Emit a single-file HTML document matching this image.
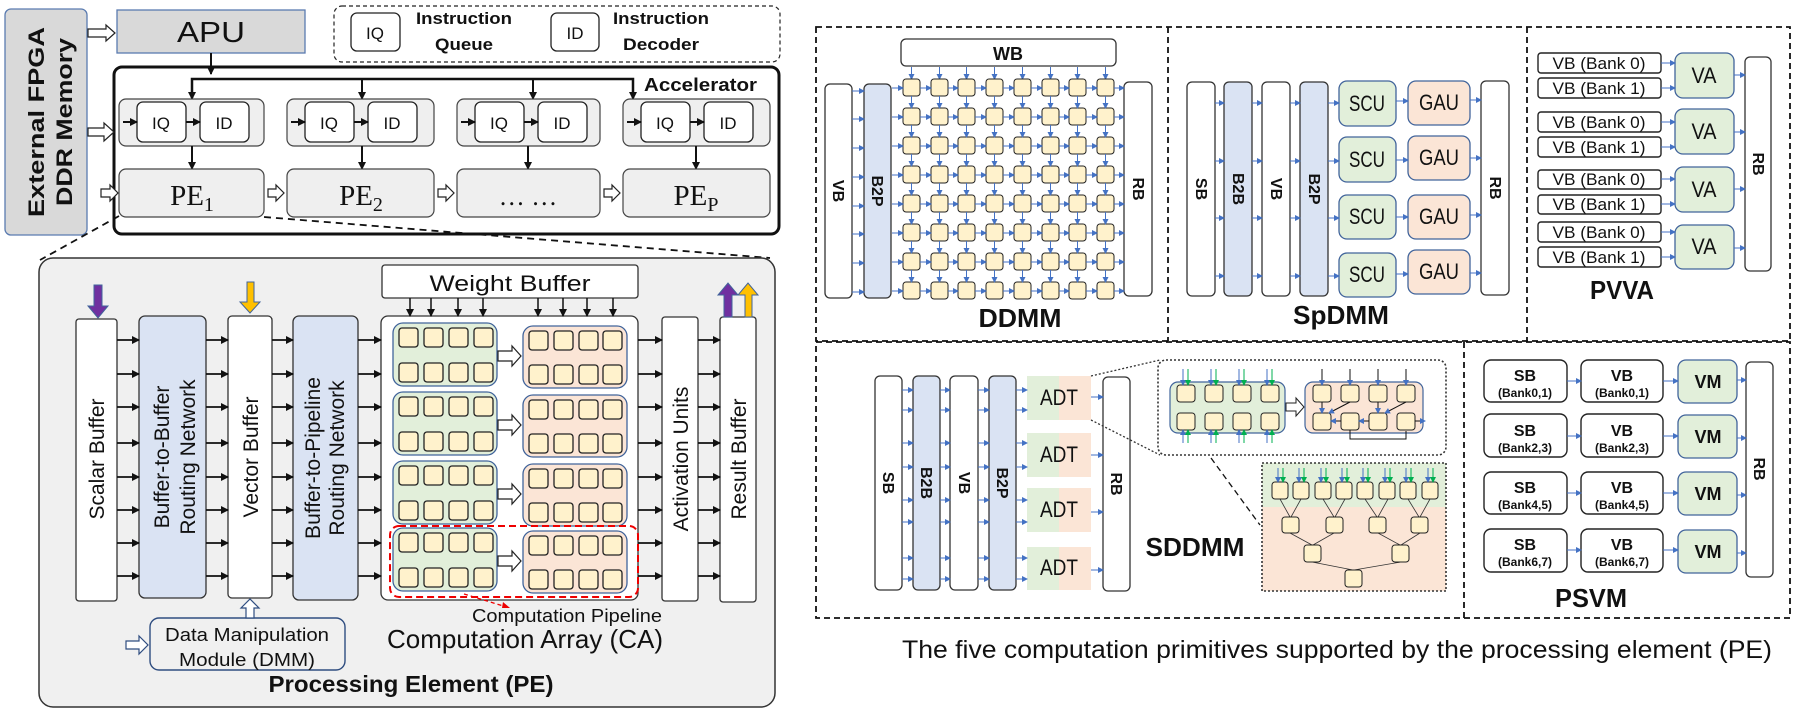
<!DOCTYPE html>
<html><head><meta charset="utf-8"><style>
html,body{margin:0;padding:0;background:#fff}
svg{display:block}
text{font-family:"Liberation Sans Narrow","Liberation Sans",sans-serif;fill:#111}
.b{font-weight:bold}
.w{font-family:"Liberation Sans",sans-serif}
.sr{font-family:"Liberation Serif",serif}
</style></head><body>
<svg width="1798" height="716" viewBox="0 0 1798 716" xmlns="http://www.w3.org/2000/svg">
<defs>
<marker id="ab" markerWidth="8" markerHeight="8" refX="7" refY="4" orient="auto" markerUnits="userSpaceOnUse"><path d="M0,0 L8,4 L0,8 z" fill="#111"/></marker>
<marker id="bl" markerWidth="6" markerHeight="6" refX="5" refY="3" orient="auto" markerUnits="userSpaceOnUse"><path d="M0,0 L6,3 L0,6 z" fill="#4472c4"/></marker>
<marker id="gr" markerWidth="6" markerHeight="6" refX="5" refY="3" orient="auto" markerUnits="userSpaceOnUse"><path d="M0,0 L6,3 L0,6 z" fill="#00b050"/></marker>
<g id="cag">
 <rect x="393" y="0" width="104" height="63" rx="10" fill="#e2efda" stroke="#41649b" stroke-width="1.3"/>
 <g fill="#fff2cc" stroke="#222" stroke-width="1.3">
 <rect x="399" y="5" width="19" height="19" rx="3"/><rect x="424" y="5" width="19" height="19" rx="3"/><rect x="449" y="5" width="19" height="19" rx="3"/><rect x="474" y="5" width="19" height="19" rx="3"/>
 <rect x="399" y="40" width="19" height="19" rx="3"/><rect x="424" y="40" width="19" height="19" rx="3"/><rect x="449" y="40" width="19" height="19" rx="3"/><rect x="474" y="40" width="19" height="19" rx="3"/>
 </g>
 <rect x="523" y="3" width="104" height="62" rx="10" fill="#fbe5d6" stroke="#41649b" stroke-width="1.3"/>
 <g fill="#fff2cc" stroke="#222" stroke-width="1.3">
 <rect x="529" y="8" width="19" height="19" rx="3"/><rect x="554" y="8" width="19" height="19" rx="3"/><rect x="579" y="8" width="19" height="19" rx="3"/><rect x="603" y="8" width="19" height="19" rx="3"/>
 <rect x="529" y="42" width="19" height="19" rx="3"/><rect x="554" y="42" width="19" height="19" rx="3"/><rect x="579" y="42" width="19" height="19" rx="3"/><rect x="603" y="42" width="19" height="19" rx="3"/>
 </g>
 <polygon points="498,28 512,28 512,23 521,33 512,43 512,38 498,38" fill="#fff" stroke="#222" stroke-width="1.2"/>
</g>
<g id="drow">
 <g fill="#fff2cc" stroke="#222" stroke-width="1">
 <rect x="903" y="79" width="17" height="17" rx="3"/><rect x="931" y="79" width="17" height="17" rx="3"/><rect x="958" y="79" width="17" height="17" rx="3"/><rect x="986" y="79" width="17" height="17" rx="3"/>
 <rect x="1014" y="79" width="17" height="17" rx="3"/><rect x="1042" y="79" width="17" height="17" rx="3"/><rect x="1069" y="79" width="17" height="17" rx="3"/><rect x="1097" y="79" width="17" height="17" rx="3"/>
 </g>
 <g stroke="#4472c4" stroke-width="1" marker-end="url(#bl)">
 <line x1="892" y1="88" x2="903" y2="88"/><line x1="920" y1="88" x2="931" y2="88"/><line x1="948" y1="88" x2="958" y2="88"/><line x1="975" y1="88" x2="986" y2="88"/>
 <line x1="1003" y1="88" x2="1014" y2="88"/><line x1="1031" y1="88" x2="1042" y2="88"/><line x1="1059" y1="88" x2="1069" y2="88"/><line x1="1086" y1="88" x2="1097" y2="88"/><line x1="1114" y1="88" x2="1124" y2="88"/>
 </g>
</g>
<g id="dvert" stroke="#4472c4" stroke-width="1" marker-end="url(#bl)">
 <line x1="911.5" y1="96" x2="911.5" y2="108"/><line x1="939.5" y1="96" x2="939.5" y2="108"/><line x1="966.5" y1="96" x2="966.5" y2="108"/><line x1="994.5" y1="96" x2="994.5" y2="108"/>
 <line x1="1022.5" y1="96" x2="1022.5" y2="108"/><line x1="1050.5" y1="96" x2="1050.5" y2="108"/><line x1="1077.5" y1="96" x2="1077.5" y2="108"/><line x1="1105.5" y1="96" x2="1105.5" y2="108"/>
</g>
</defs>

<!-- LEFT TOP -->
<rect x="5" y="9" width="82" height="226" rx="6" fill="#d9d9d9" stroke="#5a7bb0" stroke-width="1.3"/>
<text class="w b" font-size="22" transform="translate(44,122) rotate(-90)" text-anchor="middle" textLength="190" lengthAdjust="spacingAndGlyphs">External FPGA</text>
<text class="w b" font-size="22" transform="translate(72,122) rotate(-90)" text-anchor="middle" textLength="168" lengthAdjust="spacingAndGlyphs">DDR Memory</text>

<rect x="117" y="10" width="188" height="43" fill="#d9d9d9" stroke="#5a7bb0" stroke-width="1.3"/>
<text x="211" y="42" font-size="29" text-anchor="middle" textLength="68" lengthAdjust="spacingAndGlyphs">APU</text>
<polygon points="88,29 106,29 106,25 115,33 106,41 106,37 88,37" fill="#fff" stroke="#222" stroke-width="1.2"/>

<rect x="334" y="6" width="446" height="56" rx="8" fill="none" stroke="#222" stroke-width="1.2" stroke-dasharray="4,3"/>
<rect x="351" y="13" width="49" height="38" rx="6" fill="#fff" stroke="#222" stroke-width="1.3"/>
<text x="375" y="39" font-size="17" text-anchor="middle">IQ</text>
<text x="464" y="24" font-size="17" class="b" text-anchor="middle" textLength="96" lengthAdjust="spacingAndGlyphs">Instruction</text>
<text x="464" y="50" font-size="17" class="b" text-anchor="middle" textLength="58" lengthAdjust="spacingAndGlyphs">Queue</text>
<rect x="551" y="13" width="48" height="38" rx="6" fill="#fff" stroke="#222" stroke-width="1.3"/>
<text x="575" y="39" font-size="17" text-anchor="middle">ID</text>
<text x="661" y="24" font-size="17" class="b" text-anchor="middle" textLength="96" lengthAdjust="spacingAndGlyphs">Instruction</text>
<text x="661" y="50" font-size="17" class="b" text-anchor="middle" textLength="76" lengthAdjust="spacingAndGlyphs">Decoder</text>

<rect x="114" y="67" width="665" height="167" rx="8" fill="#fff" stroke="#111" stroke-width="3"/>
<text x="644" y="91" font-size="18" class="b" textLength="113" lengthAdjust="spacingAndGlyphs">Accelerator</text>
<polygon points="88,128 104,128 104,123 114,132 104,141 104,136 88,136" fill="#fff" stroke="#222" stroke-width="1.2"/>
<line x1="211" y1="53" x2="211" y2="74" stroke="#111" stroke-width="2" marker-end="url(#ab)"/>
<polyline points="192,98 192,79 633,79 633,98" fill="none" stroke="#111" stroke-width="2.5"/>
<g stroke="#111" stroke-width="2" marker-end="url(#ab)">
<line x1="192" y1="80" x2="192" y2="99"/><line x1="362" y1="80" x2="362" y2="99"/><line x1="533" y1="80" x2="533" y2="99"/><line x1="633" y1="80" x2="633" y2="99"/>
</g>
<g fill="#efefef" stroke="#444" stroke-width="1.2">
<rect x="119" y="99" width="145" height="47" rx="7"/><rect x="287" y="99" width="147" height="47" rx="7"/><rect x="457" y="99" width="143" height="47" rx="7"/><rect x="623" y="99" width="147" height="47" rx="7"/>
</g>
<g fill="#fff" stroke="#222" stroke-width="1.3">
<rect x="137" y="102" width="49" height="40" rx="6"/><rect x="200" y="102" width="49" height="40" rx="6"/>
<rect x="305" y="102" width="49" height="40" rx="6"/><rect x="368" y="102" width="49" height="40" rx="6"/>
<rect x="475" y="102" width="49" height="40" rx="6"/><rect x="538" y="102" width="49" height="40" rx="6"/>
<rect x="641" y="102" width="49" height="40" rx="6"/><rect x="704" y="102" width="49" height="40" rx="6"/>
</g>
<g font-size="17" text-anchor="middle">
<text x="161" y="129">IQ</text><text x="224" y="129">ID</text>
<text x="329" y="129">IQ</text><text x="392" y="129">ID</text>
<text x="499" y="129">IQ</text><text x="562" y="129">ID</text>
<text x="665" y="129">IQ</text><text x="728" y="129">ID</text>
</g>
<g stroke="#111" stroke-width="2" marker-end="url(#ab)">
<line x1="123" y1="122" x2="137" y2="122"/><line x1="186" y1="122" x2="200" y2="122"/>
<line x1="291" y1="122" x2="305" y2="122"/><line x1="354" y1="122" x2="368" y2="122"/>
<line x1="461" y1="122" x2="475" y2="122"/><line x1="524" y1="122" x2="538" y2="122"/>
<line x1="627" y1="122" x2="641" y2="122"/><line x1="690" y1="122" x2="704" y2="122"/>
<line x1="192" y1="146" x2="192" y2="169"/><line x1="362" y1="146" x2="362" y2="169"/><line x1="528" y1="146" x2="528" y2="169"/><line x1="696" y1="146" x2="696" y2="169"/>
</g>
<g fill="#efefef" stroke="#444" stroke-width="1.2">
<rect x="119" y="169" width="145" height="48" rx="7"/><rect x="287" y="169" width="147" height="48" rx="7"/><rect x="457" y="169" width="143" height="48" rx="7"/><rect x="623" y="169" width="147" height="48" rx="7"/>
</g>
<text x="192" y="205" class="sr" font-size="29" text-anchor="middle">PE<tspan font-size="20" dy="6">1</tspan></text>
<text x="361" y="205" class="sr" font-size="29" text-anchor="middle">PE<tspan font-size="20" dy="6">2</tspan></text>
<text x="528" y="205" class="sr" font-size="26" text-anchor="middle">… …</text>
<text x="696" y="205" class="sr" font-size="29" text-anchor="middle">PE<tspan font-size="20" dy="6">P</tspan></text>
<g fill="#fff" stroke="#222" stroke-width="1.2">
<polygon points="101,189 110,189 110,185 118,193 110,201 110,197 101,197"/>
<polygon points="268,189 276,189 276,185 284,193 276,201 276,197 268,197"/>
<polygon points="438,189 446,189 446,185 454,193 446,201 446,197 438,197"/>
<polygon points="604,189 612,189 612,185 620,193 612,201 612,197 604,197"/>
</g>
<line x1="119" y1="216" x2="40" y2="260" stroke="#111" stroke-width="1.8" stroke-dasharray="7,5"/>
<line x1="264" y1="217" x2="770" y2="258" stroke="#111" stroke-width="1.8" stroke-dasharray="7,5"/>

<!-- PE PANEL -->
<rect x="39" y="258" width="736" height="449" rx="14" fill="#f0f0f0" stroke="#333" stroke-width="1.5"/>
<rect x="76" y="319" width="41" height="282" rx="3" fill="#fff" stroke="#333" stroke-width="1.3"/>
<rect x="139" y="316" width="67" height="282" rx="6" fill="#dae3f3" stroke="#333" stroke-width="1.3"/>
<rect x="228" y="316" width="44" height="282" rx="4" fill="#fff" stroke="#333" stroke-width="1.3"/>
<rect x="293" y="316" width="65" height="284" rx="6" fill="#dae3f3" stroke="#333" stroke-width="1.3"/>
<rect x="381" y="316" width="257" height="284" rx="7" fill="#fff" stroke="#333" stroke-width="1.3"/>
<rect x="662" y="317" width="36" height="284" rx="3" fill="#fff" stroke="#333" stroke-width="1.3"/>
<rect x="720" y="317" width="36" height="285" rx="3" fill="#fff" stroke="#333" stroke-width="1.3"/>
<rect x="382" y="265" width="256" height="33" rx="3" fill="#fff" stroke="#333" stroke-width="1.3"/>
<text x="510" y="291" class="w" font-size="22" text-anchor="middle" textLength="161" lengthAdjust="spacingAndGlyphs">Weight Buffer</text>
<g class="w" font-size="21" text-anchor="middle">
<text transform="translate(104,459) rotate(-90)">Scalar Buffer</text>
<text transform="translate(169,457) rotate(-90)">Buffer-to-Buffer</text>
<text transform="translate(195,457) rotate(-90)">Routing Network</text>
<text transform="translate(258,457) rotate(-90)">Vector Buffer</text>
<text transform="translate(320,458) rotate(-90)">Buffer-to-Pipeline</text>
<text transform="translate(344,458) rotate(-90)">Routing Network</text>
<text transform="translate(688,459) rotate(-90)">Activation Units</text>
<text transform="translate(746,459) rotate(-90)">Result Buffer</text>
</g>
<g stroke="#111" stroke-width="1.8" marker-end="url(#ab)">
<line x1="117" y1="340" x2="139" y2="340"/><line x1="117" y1="374" x2="139" y2="374"/><line x1="117" y1="407" x2="139" y2="407"/><line x1="117" y1="443" x2="139" y2="443"/><line x1="117" y1="477" x2="139" y2="477"/><line x1="117" y1="510" x2="139" y2="510"/><line x1="117" y1="543" x2="139" y2="543"/><line x1="117" y1="576" x2="139" y2="576"/>
<line x1="206" y1="340" x2="228" y2="340"/><line x1="206" y1="374" x2="228" y2="374"/><line x1="206" y1="407" x2="228" y2="407"/><line x1="206" y1="443" x2="228" y2="443"/><line x1="206" y1="477" x2="228" y2="477"/><line x1="206" y1="510" x2="228" y2="510"/><line x1="206" y1="543" x2="228" y2="543"/><line x1="206" y1="576" x2="228" y2="576"/>
<line x1="272" y1="340" x2="293" y2="340"/><line x1="272" y1="374" x2="293" y2="374"/><line x1="272" y1="407" x2="293" y2="407"/><line x1="272" y1="443" x2="293" y2="443"/><line x1="272" y1="477" x2="293" y2="477"/><line x1="272" y1="510" x2="293" y2="510"/><line x1="272" y1="543" x2="293" y2="543"/><line x1="272" y1="576" x2="293" y2="576"/>
<line x1="358" y1="340" x2="381" y2="340"/><line x1="358" y1="374" x2="381" y2="374"/><line x1="358" y1="407" x2="381" y2="407"/><line x1="358" y1="443" x2="381" y2="443"/><line x1="358" y1="477" x2="381" y2="477"/><line x1="358" y1="510" x2="381" y2="510"/><line x1="358" y1="543" x2="381" y2="543"/><line x1="358" y1="576" x2="381" y2="576"/>
<line x1="638" y1="340" x2="662" y2="340"/><line x1="638" y1="374" x2="662" y2="374"/><line x1="638" y1="407" x2="662" y2="407"/><line x1="638" y1="443" x2="662" y2="443"/><line x1="638" y1="477" x2="662" y2="477"/><line x1="638" y1="510" x2="662" y2="510"/><line x1="638" y1="543" x2="662" y2="543"/><line x1="638" y1="576" x2="662" y2="576"/>
<line x1="698" y1="340" x2="720" y2="340"/><line x1="698" y1="374" x2="720" y2="374"/><line x1="698" y1="407" x2="720" y2="407"/><line x1="698" y1="443" x2="720" y2="443"/><line x1="698" y1="477" x2="720" y2="477"/><line x1="698" y1="510" x2="720" y2="510"/><line x1="698" y1="543" x2="720" y2="543"/><line x1="698" y1="576" x2="720" y2="576"/>
</g>
<g stroke="#111" stroke-width="1.5" marker-end="url(#ab)">
<line x1="410" y1="298" x2="410" y2="316"/><line x1="431" y1="298" x2="431" y2="316"/><line x1="458" y1="298" x2="458" y2="316"/><line x1="483" y1="298" x2="483" y2="316"/>
<line x1="538" y1="298" x2="538" y2="316"/><line x1="563" y1="298" x2="563" y2="316"/><line x1="587" y1="298" x2="587" y2="316"/><line x1="613" y1="298" x2="613" y2="316"/>
</g>
<use href="#cag" transform="translate(0,323)"/>
<use href="#cag" transform="translate(0,392)"/>
<use href="#cag" transform="translate(0,461)"/>
<use href="#cag" transform="translate(0,528)"/>
<rect x="390" y="526" width="248" height="71" rx="9" fill="none" stroke="#e00" stroke-width="2" stroke-dasharray="7,4"/>
<line x1="464" y1="594" x2="510" y2="608" stroke="#e00" stroke-width="1.3" stroke-dasharray="4,3"/>
<path d="M510,608 l-7,-6 l-1,6 z" fill="#e00"/>
<polygon points="94,285 102,285 102,306 108,306 98,318 88,306 94,306" fill="#7030a0" stroke="#41649b" stroke-width="1"/>
<polygon points="247,282 254,282 254,302 260,302 250,313 240,302 247,302" fill="#ffc000" stroke="#41649b" stroke-width="1"/>
<polygon points="724,317 732,317 732,295 738,295 728,283 718,295 724,295" fill="#7030a0" stroke="#41649b" stroke-width="1"/>
<polygon points="745,317 752,317 752,295 758,295 748,283 738,295 745,295" fill="#ffc000" stroke="#41649b" stroke-width="1"/>
<rect x="150" y="618" width="195" height="52" rx="9" fill="#f0f0f0" stroke="#2f4d80" stroke-width="1.4"/>
<text x="247" y="641" font-size="18" text-anchor="middle" textLength="164" lengthAdjust="spacingAndGlyphs">Data Manipulation</text>
<text x="247" y="666" font-size="18" text-anchor="middle" textLength="136" lengthAdjust="spacingAndGlyphs">Module (DMM)</text>
<polygon points="126,641 139,641 139,636 148,645 139,654 139,649 126,649" fill="#fff" stroke="#2f4d80" stroke-width="1.2"/>
<polygon points="246,618 246,608 241,608 250,599 259,608 254,608 254,618" fill="#fff" stroke="#2f4d80" stroke-width="1.2"/>
<text x="567" y="622" font-size="18" text-anchor="middle" textLength="190" lengthAdjust="spacingAndGlyphs">Computation Pipeline</text>
<text x="525" y="648" font-size="26" text-anchor="middle" textLength="276" lengthAdjust="spacingAndGlyphs">Computation Array (CA)</text>
<text x="411" y="692" font-size="23" class="b" text-anchor="middle" textLength="285" lengthAdjust="spacingAndGlyphs">Processing Element (PE)</text>

<!-- RIGHT DASHED BOXES -->
<g fill="none" stroke="#111" stroke-width="1.8" stroke-dasharray="6,4">
<rect x="816" y="27" width="974" height="314"/>
<line x1="1168" y1="27" x2="1168" y2="341"/>
<line x1="1527" y1="27" x2="1527" y2="341"/>
<rect x="816" y="342" width="974" height="276"/>
<line x1="1464" y1="342" x2="1464" y2="618"/>
</g>

<!-- DDMM -->
<rect x="901" y="39" width="215" height="27" rx="5" fill="#fff" stroke="#333" stroke-width="1.3"/>
<text x="1008" y="60" font-size="18" class="b w" text-anchor="middle">WB</text>
<rect x="825" y="84" width="27" height="214" rx="5" fill="#fff" stroke="#333" stroke-width="1.3"/>
<rect x="864" y="84" width="27" height="214" rx="5" fill="#dae3f3" stroke="#333" stroke-width="1.3"/>
<rect x="1124" y="82" width="28" height="214" rx="5" fill="#fff" stroke="#333" stroke-width="1.3"/>
<g class="w b" font-size="16" text-anchor="middle">
<text transform="translate(833,191) rotate(90)">VB</text>
<text transform="translate(872,191) rotate(90)">B2P</text>
<text transform="translate(1133,189) rotate(90)">RB</text>
</g>
<g stroke="#4472c4" stroke-width="1" marker-end="url(#bl)">
<line x1="911.5" y1="67" x2="911.5" y2="79"/><line x1="939.5" y1="67" x2="939.5" y2="79"/><line x1="966.5" y1="67" x2="966.5" y2="79"/><line x1="994.5" y1="67" x2="994.5" y2="79"/>
<line x1="1022.5" y1="67" x2="1022.5" y2="79"/><line x1="1050.5" y1="67" x2="1050.5" y2="79"/><line x1="1077.5" y1="67" x2="1077.5" y2="79"/><line x1="1105.5" y1="67" x2="1105.5" y2="79"/>
<line x1="852" y1="91" x2="864" y2="91"/><line x1="852" y1="119" x2="864" y2="119"/><line x1="852" y1="148" x2="864" y2="148"/><line x1="852" y1="177" x2="864" y2="177"/><line x1="852" y1="206" x2="864" y2="206"/><line x1="852" y1="234" x2="864" y2="234"/><line x1="852" y1="263" x2="864" y2="263"/><line x1="852" y1="292" x2="864" y2="292"/>
</g>
<use href="#drow"/><use href="#drow" y="29"/><use href="#drow" y="58"/><use href="#drow" y="87"/><use href="#drow" y="116"/><use href="#drow" y="145"/><use href="#drow" y="174"/><use href="#drow" y="203"/>
<use href="#dvert"/><use href="#dvert" y="29"/><use href="#dvert" y="58"/><use href="#dvert" y="87"/><use href="#dvert" y="116"/><use href="#dvert" y="145"/><use href="#dvert" y="174"/>
<text x="1020" y="327" font-size="26" class="b" text-anchor="middle" textLength="83" lengthAdjust="spacingAndGlyphs">DDMM</text>

<!-- SpDMM -->
<rect x="1187" y="82" width="28" height="214" rx="5" fill="#fff" stroke="#333" stroke-width="1.3"/>
<rect x="1224" y="82" width="28" height="214" rx="5" fill="#dae3f3" stroke="#333" stroke-width="1.3"/>
<rect x="1262" y="82" width="28" height="214" rx="5" fill="#fff" stroke="#333" stroke-width="1.3"/>
<rect x="1300" y="82" width="28" height="214" rx="5" fill="#dae3f3" stroke="#333" stroke-width="1.3"/>
<rect x="1481" y="81" width="28" height="214" rx="5" fill="#fff" stroke="#333" stroke-width="1.3"/>
<g class="w b" font-size="16" text-anchor="middle">
<text transform="translate(1196,189) rotate(90)">SB</text>
<text transform="translate(1233,189) rotate(90)">B2B</text>
<text transform="translate(1271,189) rotate(90)">VB</text>
<text transform="translate(1309,189) rotate(90)">B2P</text>
<text transform="translate(1490,188) rotate(90)">RB</text>
</g>
<g stroke="#41649b" stroke-width="1.3">
<rect x="1339" y="81" width="57" height="45" rx="8" fill="#e2efda"/><rect x="1339" y="137" width="57" height="45" rx="8" fill="#e2efda"/><rect x="1339" y="195" width="57" height="44" rx="8" fill="#e2efda"/><rect x="1339" y="253" width="57" height="44" rx="8" fill="#e2efda"/>
<rect x="1408" y="81" width="62" height="44" rx="8" fill="#fbe5d6"/><rect x="1408" y="136" width="62" height="44" rx="8" fill="#fbe5d6"/><rect x="1408" y="195" width="62" height="44" rx="8" fill="#fbe5d6"/><rect x="1408" y="250" width="62" height="44" rx="8" fill="#fbe5d6"/>
</g>
<g font-size="22" text-anchor="middle" lengthAdjust="spacingAndGlyphs">
<text x="1367" y="111" textLength="36" lengthAdjust="spacingAndGlyphs">SCU</text><text x="1367" y="167" textLength="36" lengthAdjust="spacingAndGlyphs">SCU</text><text x="1367" y="224" textLength="36" lengthAdjust="spacingAndGlyphs">SCU</text><text x="1367" y="282" textLength="36" lengthAdjust="spacingAndGlyphs">SCU</text>
<text x="1439" y="110" textLength="40" lengthAdjust="spacingAndGlyphs">GAU</text><text x="1439" y="165" textLength="40" lengthAdjust="spacingAndGlyphs">GAU</text><text x="1439" y="224" textLength="40" lengthAdjust="spacingAndGlyphs">GAU</text><text x="1439" y="279" textLength="40" lengthAdjust="spacingAndGlyphs">GAU</text>
</g>
<g stroke="#4472c4" stroke-width="1" marker-end="url(#bl)">
<line x1="1215" y1="103" x2="1224" y2="103"/><line x1="1252" y1="103" x2="1262" y2="103"/><line x1="1290" y1="103" x2="1300" y2="103"/><line x1="1328" y1="103" x2="1339" y2="103"/><line x1="1396" y1="101" x2="1408" y2="101"/><line x1="1470" y1="100" x2="1481" y2="100"/>
<line x1="1215" y1="161" x2="1224" y2="161"/><line x1="1252" y1="161" x2="1262" y2="161"/><line x1="1290" y1="161" x2="1300" y2="161"/><line x1="1328" y1="161" x2="1339" y2="161"/><line x1="1396" y1="160" x2="1408" y2="160"/><line x1="1470" y1="158" x2="1481" y2="158"/>
<line x1="1215" y1="218" x2="1224" y2="218"/><line x1="1252" y1="218" x2="1262" y2="218"/><line x1="1290" y1="218" x2="1300" y2="218"/><line x1="1328" y1="218" x2="1339" y2="218"/><line x1="1396" y1="217" x2="1408" y2="217"/><line x1="1470" y1="215" x2="1481" y2="215"/>
<line x1="1215" y1="276" x2="1224" y2="276"/><line x1="1252" y1="276" x2="1262" y2="276"/><line x1="1290" y1="276" x2="1300" y2="276"/><line x1="1328" y1="276" x2="1339" y2="276"/><line x1="1396" y1="274" x2="1408" y2="274"/><line x1="1470" y1="273" x2="1481" y2="273"/>
</g>
<text x="1341" y="324" font-size="26" class="b" text-anchor="middle" textLength="96" lengthAdjust="spacingAndGlyphs">SpDMM</text>

<!-- PVVA -->
<g fill="#fff" stroke="#222" stroke-width="1.4">
<rect x="1538" y="53" width="123" height="20" rx="3"/><rect x="1538" y="78" width="123" height="20" rx="3"/>
<rect x="1538" y="112" width="123" height="20" rx="3"/><rect x="1538" y="137" width="123" height="20" rx="3"/>
<rect x="1538" y="170" width="123" height="19" rx="3"/><rect x="1538" y="195" width="123" height="19" rx="3"/>
<rect x="1538" y="222" width="123" height="20" rx="3"/><rect x="1538" y="247" width="123" height="20" rx="3"/>
</g>
<g font-size="17" text-anchor="middle">
<text x="1599" y="69" textLength="93" lengthAdjust="spacingAndGlyphs">VB (Bank 0)</text><text x="1599" y="94" textLength="93" lengthAdjust="spacingAndGlyphs">VB (Bank 1)</text>
<text x="1599" y="128" textLength="93" lengthAdjust="spacingAndGlyphs">VB (Bank 0)</text><text x="1599" y="153" textLength="93" lengthAdjust="spacingAndGlyphs">VB (Bank 1)</text>
<text x="1599" y="185" textLength="93" lengthAdjust="spacingAndGlyphs">VB (Bank 0)</text><text x="1599" y="210" textLength="93" lengthAdjust="spacingAndGlyphs">VB (Bank 1)</text>
<text x="1599" y="238" textLength="93" lengthAdjust="spacingAndGlyphs">VB (Bank 0)</text><text x="1599" y="263" textLength="93" lengthAdjust="spacingAndGlyphs">VB (Bank 1)</text>
</g>
<g fill="#e2efda" stroke="#41649b" stroke-width="1.3">
<rect x="1675" y="53" width="59" height="45" rx="8"/><rect x="1675" y="109" width="59" height="45" rx="8"/><rect x="1675" y="167" width="59" height="45" rx="8"/><rect x="1675" y="225" width="59" height="44" rx="8"/>
</g>
<g font-size="22" text-anchor="middle"><text x="1704" y="83" textLength="25" lengthAdjust="spacingAndGlyphs">VA</text><text x="1704" y="139" textLength="25" lengthAdjust="spacingAndGlyphs">VA</text><text x="1704" y="197" textLength="25" lengthAdjust="spacingAndGlyphs">VA</text><text x="1704" y="254" textLength="25" lengthAdjust="spacingAndGlyphs">VA</text></g>
<rect x="1745" y="57" width="26" height="214" rx="5" fill="#fff" stroke="#333" stroke-width="1.3"/>
<text class="w b" font-size="16" text-anchor="middle" transform="translate(1753,164) rotate(90)">RB</text>
<g stroke="#4472c4" stroke-width="1" marker-end="url(#bl)">
<line x1="1661" y1="63" x2="1675" y2="63"/><line x1="1661" y1="88" x2="1675" y2="88"/><line x1="1661" y1="122" x2="1675" y2="122"/><line x1="1661" y1="147" x2="1675" y2="147"/>
<line x1="1661" y1="179" x2="1675" y2="179"/><line x1="1661" y1="204" x2="1675" y2="204"/><line x1="1661" y1="232" x2="1675" y2="232"/><line x1="1661" y1="257" x2="1675" y2="257"/>
<line x1="1734" y1="75" x2="1745" y2="75"/><line x1="1734" y1="132" x2="1745" y2="132"/><line x1="1734" y1="189" x2="1745" y2="189"/><line x1="1734" y1="248" x2="1745" y2="248"/>
</g>
<text x="1622" y="299" font-size="26" class="b" text-anchor="middle" textLength="64" lengthAdjust="spacingAndGlyphs">PVVA</text>

<!-- SDDMM -->
<rect x="875" y="376" width="27" height="214" rx="5" fill="#fff" stroke="#333" stroke-width="1.3"/>
<rect x="913" y="376" width="27" height="214" rx="5" fill="#dae3f3" stroke="#333" stroke-width="1.3"/>
<rect x="950" y="376" width="28" height="214" rx="5" fill="#fff" stroke="#333" stroke-width="1.3"/>
<rect x="989" y="376" width="27" height="214" rx="5" fill="#dae3f3" stroke="#333" stroke-width="1.3"/>
<rect x="1103" y="377" width="27" height="214" rx="5" fill="#fff" stroke="#333" stroke-width="1.3"/>
<g class="w b" font-size="16" text-anchor="middle">
<text transform="translate(883,483) rotate(90)">SB</text>
<text transform="translate(921,483) rotate(90)">B2B</text>
<text transform="translate(959,483) rotate(90)">VB</text>
<text transform="translate(997,483) rotate(90)">B2P</text>
<text transform="translate(1111,484) rotate(90)">RB</text>
</g>
<g>
<rect x="1027" y="376" width="32" height="44" fill="#e2efda"/><rect x="1059" y="376" width="32" height="44" fill="#fbe5d6"/>
<rect x="1027" y="433" width="32" height="44" fill="#e2efda"/><rect x="1059" y="433" width="32" height="44" fill="#fbe5d6"/>
<rect x="1027" y="488" width="32" height="44" fill="#e2efda"/><rect x="1059" y="488" width="32" height="44" fill="#fbe5d6"/>
<rect x="1027" y="547" width="32" height="43" fill="#e2efda"/><rect x="1059" y="547" width="32" height="43" fill="#fbe5d6"/>
</g>
<g font-size="22" text-anchor="middle"><text x="1059" y="405" textLength="38" lengthAdjust="spacingAndGlyphs">ADT</text><text x="1059" y="462" textLength="38" lengthAdjust="spacingAndGlyphs">ADT</text><text x="1059" y="517" textLength="38" lengthAdjust="spacingAndGlyphs">ADT</text><text x="1059" y="575" textLength="38" lengthAdjust="spacingAndGlyphs">ADT</text></g>
<g stroke="#4472c4" stroke-width="1" marker-end="url(#bl)">
<line x1="902" y1="390" x2="913" y2="390"/><line x1="940" y1="390" x2="950" y2="390"/><line x1="978" y1="390" x2="989" y2="390"/><line x1="1016" y1="390" x2="1027" y2="390"/>
<line x1="902" y1="410" x2="913" y2="410"/><line x1="940" y1="410" x2="950" y2="410"/><line x1="978" y1="410" x2="989" y2="410"/><line x1="1016" y1="410" x2="1027" y2="410"/>
<line x1="902" y1="443" x2="913" y2="443"/><line x1="940" y1="443" x2="950" y2="443"/><line x1="978" y1="443" x2="989" y2="443"/><line x1="1016" y1="443" x2="1027" y2="443"/>
<line x1="902" y1="467" x2="913" y2="467"/><line x1="940" y1="467" x2="950" y2="467"/><line x1="978" y1="467" x2="989" y2="467"/><line x1="1016" y1="467" x2="1027" y2="467"/>
<line x1="902" y1="500" x2="913" y2="500"/><line x1="940" y1="500" x2="950" y2="500"/><line x1="978" y1="500" x2="989" y2="500"/><line x1="1016" y1="500" x2="1027" y2="500"/>
<line x1="902" y1="522" x2="913" y2="522"/><line x1="940" y1="522" x2="950" y2="522"/><line x1="978" y1="522" x2="989" y2="522"/><line x1="1016" y1="522" x2="1027" y2="522"/>
<line x1="902" y1="558" x2="913" y2="558"/><line x1="940" y1="558" x2="950" y2="558"/><line x1="978" y1="558" x2="989" y2="558"/><line x1="1016" y1="558" x2="1027" y2="558"/>
<line x1="902" y1="579" x2="913" y2="579"/><line x1="940" y1="579" x2="950" y2="579"/><line x1="978" y1="579" x2="989" y2="579"/><line x1="1016" y1="579" x2="1027" y2="579"/>
<line x1="1091" y1="397" x2="1103" y2="397"/><line x1="1091" y1="455" x2="1103" y2="455"/><line x1="1091" y1="512" x2="1103" y2="512"/><line x1="1091" y1="570" x2="1103" y2="570"/>
</g>
<line x1="1091" y1="376" x2="1160" y2="360" stroke="#333" stroke-width="1.3" stroke-dasharray="2,2"/>
<line x1="1091" y1="420" x2="1160" y2="455" stroke="#333" stroke-width="1.3" stroke-dasharray="2,2"/>
<rect x="1158" y="360" width="288" height="95" rx="8" fill="#fff" stroke="#333" stroke-width="1.6" stroke-dasharray="2,2"/>
<rect x="1170" y="382" width="115" height="51" rx="8" fill="#e2efda" stroke="#41649b" stroke-width="1.2"/>
<rect x="1305" y="382" width="118" height="51" rx="8" fill="#fbe5d6" stroke="#41649b" stroke-width="1.2"/>
<g fill="#fff2cc" stroke="#222" stroke-width="1">
<rect x="1177" y="385" width="18" height="17" rx="3"/><rect x="1205" y="385" width="18" height="17" rx="3"/><rect x="1233" y="385" width="18" height="17" rx="3"/><rect x="1261" y="385" width="18" height="17" rx="3"/>
<rect x="1177" y="413" width="18" height="17" rx="3"/><rect x="1205" y="413" width="18" height="17" rx="3"/><rect x="1233" y="413" width="18" height="17" rx="3"/><rect x="1261" y="413" width="18" height="17" rx="3"/>
<rect x="1313" y="385" width="18" height="17" rx="3"/><rect x="1341" y="385" width="18" height="17" rx="3"/><rect x="1369" y="385" width="18" height="17" rx="3"/><rect x="1397" y="385" width="18" height="17" rx="3"/>
<rect x="1313" y="413" width="18" height="17" rx="3"/><rect x="1341" y="413" width="18" height="17" rx="3"/><rect x="1369" y="413" width="18" height="17" rx="3"/><rect x="1397" y="413" width="18" height="17" rx="3"/>
</g>
<g stroke-width="1">
<g stroke="#4472c4" marker-end="url(#bl)"><line x1="1183" y1="369" x2="1183" y2="385"/><line x1="1211" y1="369" x2="1211" y2="385"/><line x1="1239" y1="369" x2="1239" y2="385"/><line x1="1267" y1="369" x2="1267" y2="385"/>
<line x1="1183" y1="443" x2="1183" y2="430"/><line x1="1211" y1="443" x2="1211" y2="430"/><line x1="1239" y1="443" x2="1239" y2="430"/><line x1="1267" y1="443" x2="1267" y2="430"/></g>
<g stroke="#00b050" marker-end="url(#gr)"><line x1="1188" y1="369" x2="1188" y2="385"/><line x1="1216" y1="369" x2="1216" y2="385"/><line x1="1244" y1="369" x2="1244" y2="385"/><line x1="1272" y1="369" x2="1272" y2="385"/>
<line x1="1188" y1="443" x2="1188" y2="430"/><line x1="1216" y1="443" x2="1216" y2="430"/><line x1="1244" y1="443" x2="1244" y2="430"/><line x1="1272" y1="443" x2="1272" y2="430"/></g>
<g stroke="#111" marker-end="url(#bl)"><line x1="1322" y1="369" x2="1322" y2="385"/><line x1="1350" y1="369" x2="1350" y2="385"/><line x1="1378" y1="369" x2="1378" y2="385"/><line x1="1406" y1="369" x2="1406" y2="385"/>
<line x1="1322" y1="402" x2="1322" y2="413"/><line x1="1350" y1="402" x2="1329" y2="413"/><line x1="1378" y1="402" x2="1378" y2="413"/><line x1="1406" y1="402" x2="1385" y2="413"/>
<line x1="1341" y1="421" x2="1331" y2="421"/><line x1="1369" y1="421" x2="1359" y2="421"/><line x1="1415" y1="421" x2="1425" y2="421"/></g>
<polyline points="1350,430 1350,439 1406,439 1406,431" fill="none" stroke="#111"/>
</g>
<polygon points="1286,403 1296,403 1296,398 1304,407 1296,416 1296,411 1286,411" fill="#fff" stroke="#222" stroke-width="1"/>
<line x1="1211" y1="458" x2="1260" y2="525" stroke="#111" stroke-width="1.3" stroke-dasharray="6,4"/>
<rect x="1262" y="463" width="184" height="128" fill="#fbe5d6"/>
<rect x="1262" y="463" width="184" height="44" fill="#e2efda"/>
<rect x="1262" y="463" width="184" height="128" fill="none" stroke="#333" stroke-width="1.6" stroke-dasharray="2,2"/>
<g stroke="#333" stroke-width="0.8">
<line x1="1280" y1="499" x2="1290" y2="517"/><line x1="1301" y1="499" x2="1291" y2="517"/><line x1="1323" y1="499" x2="1334" y2="517"/><line x1="1345" y1="499" x2="1335" y2="517"/>
<line x1="1365" y1="499" x2="1377" y2="517"/><line x1="1388" y1="499" x2="1378" y2="517"/><line x1="1408" y1="499" x2="1419" y2="517"/><line x1="1430" y1="499" x2="1420" y2="517"/>
<line x1="1290" y1="533" x2="1312" y2="545"/><line x1="1334" y1="533" x2="1313" y2="545"/><line x1="1378" y1="533" x2="1400" y2="545"/><line x1="1420" y1="533" x2="1401" y2="545"/>
<line x1="1312" y1="562" x2="1353" y2="570"/><line x1="1401" y1="562" x2="1354" y2="570"/>
</g>
<g fill="#fff2cc" stroke="#222" stroke-width="1">
<rect x="1272" y="482" width="16" height="17" rx="3"/><rect x="1293" y="482" width="16" height="17" rx="3"/><rect x="1315" y="482" width="16" height="17" rx="3"/><rect x="1336" y="482" width="16" height="17" rx="3"/>
<rect x="1357" y="482" width="16" height="17" rx="3"/><rect x="1379" y="482" width="16" height="17" rx="3"/><rect x="1400" y="482" width="16" height="17" rx="3"/><rect x="1422" y="482" width="16" height="17" rx="3"/>
<rect x="1282" y="517" width="17" height="16" rx="3"/><rect x="1326" y="517" width="17" height="16" rx="3"/><rect x="1369" y="517" width="17" height="16" rx="3"/><rect x="1411" y="517" width="17" height="16" rx="3"/>
<rect x="1304" y="545" width="17" height="17" rx="3"/><rect x="1392" y="545" width="17" height="17" rx="3"/>
<rect x="1345" y="570" width="17" height="17" rx="3"/>
</g>
<g stroke-width="1">
<g stroke="#4472c4" marker-end="url(#bl)"><line x1="1278" y1="468" x2="1278" y2="482"/><line x1="1299" y1="468" x2="1299" y2="482"/><line x1="1321" y1="468" x2="1321" y2="482"/><line x1="1342" y1="468" x2="1342" y2="482"/><line x1="1363" y1="468" x2="1363" y2="482"/><line x1="1385" y1="468" x2="1385" y2="482"/><line x1="1406" y1="468" x2="1406" y2="482"/><line x1="1428" y1="468" x2="1428" y2="482"/></g>
<g stroke="#00b050" marker-end="url(#gr)"><line x1="1283" y1="468" x2="1283" y2="482"/><line x1="1304" y1="468" x2="1304" y2="482"/><line x1="1326" y1="468" x2="1326" y2="482"/><line x1="1347" y1="468" x2="1347" y2="482"/><line x1="1368" y1="468" x2="1368" y2="482"/><line x1="1390" y1="468" x2="1390" y2="482"/><line x1="1411" y1="468" x2="1411" y2="482"/><line x1="1433" y1="468" x2="1433" y2="482"/></g>
</g>
<text x="1195" y="556" font-size="26" class="b" text-anchor="middle" textLength="99" lengthAdjust="spacingAndGlyphs">SDDMM</text>

<!-- PSVM -->
<g fill="#fff" stroke="#222" stroke-width="1.4">
<rect x="1484" y="360" width="83" height="42" rx="7"/><rect x="1581" y="360" width="82" height="42" rx="7"/>
<rect x="1484" y="414" width="83" height="43" rx="7"/><rect x="1581" y="414" width="82" height="43" rx="7"/>
<rect x="1484" y="472" width="83" height="42" rx="7"/><rect x="1581" y="472" width="82" height="42" rx="7"/>
<rect x="1484" y="529" width="83" height="43" rx="7"/><rect x="1581" y="529" width="82" height="43" rx="7"/>
</g>
<g class="w b" text-anchor="middle">
<g font-size="16">
<text x="1525" y="381">SB</text><text x="1622" y="381">VB</text>
<text x="1525" y="436">SB</text><text x="1622" y="436">VB</text>
<text x="1525" y="493">SB</text><text x="1622" y="493">VB</text>
<text x="1525" y="550">SB</text><text x="1622" y="550">VB</text>
</g>
<g font-size="12">
<text x="1525" y="397">(Bank0,1)</text><text x="1622" y="397">(Bank0,1)</text>
<text x="1525" y="452">(Bank2,3)</text><text x="1622" y="452">(Bank2,3)</text>
<text x="1525" y="509">(Bank4,5)</text><text x="1622" y="509">(Bank4,5)</text>
<text x="1525" y="566">(Bank6,7)</text><text x="1622" y="566">(Bank6,7)</text>
</g>
</g>
<g fill="#e2efda" stroke="#41649b" stroke-width="1.3">
<rect x="1678" y="360" width="59" height="43" rx="8"/><rect x="1678" y="415" width="59" height="43" rx="8"/><rect x="1678" y="472" width="59" height="43" rx="8"/><rect x="1678" y="530" width="59" height="43" rx="8"/>
</g>
<g class="w b" font-size="18" text-anchor="middle"><text x="1708" y="388">VM</text><text x="1708" y="443">VM</text><text x="1708" y="500">VM</text><text x="1708" y="558">VM</text></g>
<rect x="1746" y="362" width="27" height="215" rx="5" fill="#fff" stroke="#333" stroke-width="1.3"/>
<text class="w b" font-size="16" text-anchor="middle" transform="translate(1754,469) rotate(90)">RB</text>
<g stroke="#4472c4" stroke-width="1" marker-end="url(#bl)">
<line x1="1567" y1="381" x2="1581" y2="381"/><line x1="1663" y1="381" x2="1678" y2="381"/><line x1="1737" y1="380" x2="1746" y2="380"/>
<line x1="1567" y1="436" x2="1581" y2="436"/><line x1="1663" y1="436" x2="1678" y2="436"/><line x1="1737" y1="438" x2="1746" y2="438"/>
<line x1="1567" y1="493" x2="1581" y2="493"/><line x1="1663" y1="493" x2="1678" y2="493"/><line x1="1737" y1="495" x2="1746" y2="495"/>
<line x1="1567" y1="550" x2="1581" y2="550"/><line x1="1663" y1="550" x2="1678" y2="550"/><line x1="1737" y1="553" x2="1746" y2="553"/>
</g>
<text x="1591" y="607" font-size="26" class="b" text-anchor="middle" textLength="72" lengthAdjust="spacingAndGlyphs">PSVM</text>

<text x="1337" y="658" font-size="25" text-anchor="middle" textLength="870" lengthAdjust="spacingAndGlyphs">The five computation primitives supported by the processing element (PE)</text>
</svg>
</body></html>
